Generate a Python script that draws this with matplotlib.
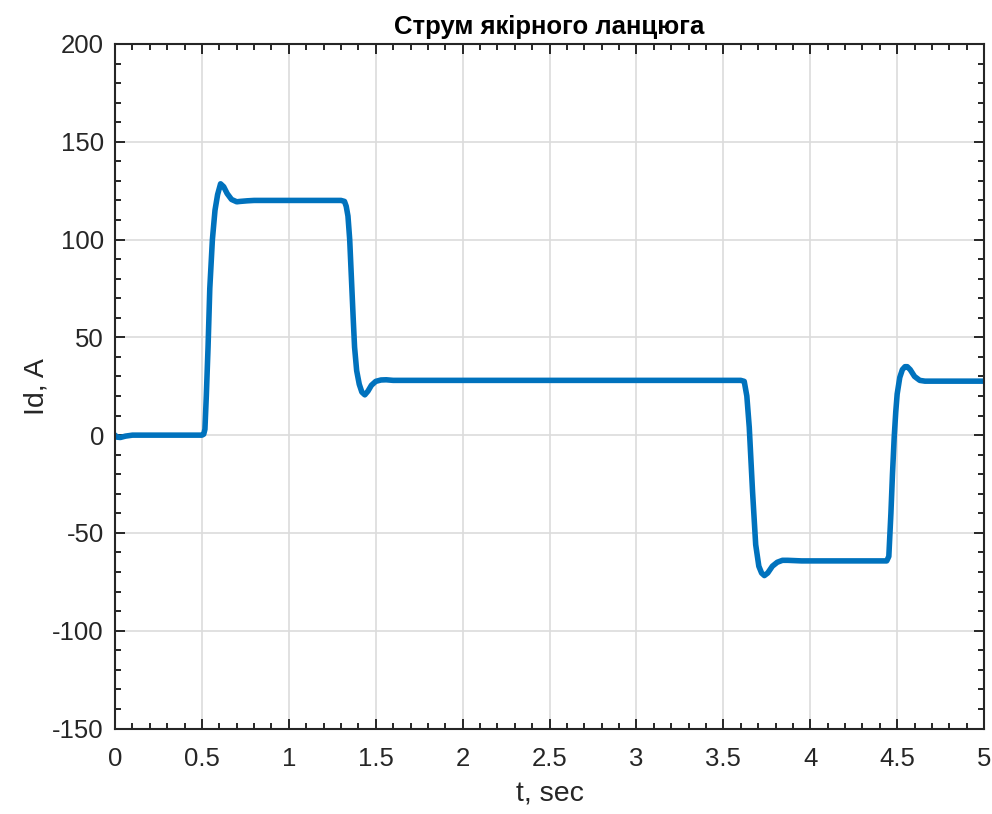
import numpy as np
import matplotlib.pyplot as plt
from matplotlib.ticker import MultipleLocator

plt.rcParams['font.family'] = ['Liberation Sans', 'DejaVu Sans']

# armature current (t in s, Id in A)
t = [0.0, 0.01, 0.03, 0.06, 0.1, 0.2, 0.3, 0.4, 0.5, 0.51, 0.517,
     0.525, 0.535, 0.545, 0.56, 0.575, 0.59, 0.607, 0.625, 0.645, 0.67,
     0.7, 0.72, 0.76, 0.8, 0.9, 1.0, 1.1, 1.2, 1.3, 1.32, 1.33, 1.34,
     1.35, 1.36, 1.37, 1.378, 1.39, 1.405, 1.42, 1.437, 1.455, 1.475,
     1.5, 1.53, 1.56, 1.6, 1.8, 2.0, 2.5, 3.0, 3.5, 3.6, 3.62, 3.635,
     3.649, 3.668, 3.686, 3.704, 3.72, 3.736, 3.755, 3.782, 3.81, 3.84,
     3.87, 3.95, 4.1, 4.3, 4.44, 4.452, 4.464, 4.473, 4.483, 4.492, 4.5,
     4.515, 4.53, 4.545, 4.558, 4.575, 4.6, 4.63, 4.66, 4.7, 4.8, 5.0]
Id = [0.0, -1.0, -1.2, -0.5, 0.0, 0.0, 0.0, 0.0, 0.0, 0.5, 3,
      20, 45, 75, 100, 115, 123, 128.5, 127, 123.5, 120.5,
      119.3, 119.5, 119.8, 120, 120, 120, 120, 120, 120, 119.5, 117, 112,
      100, 80, 60, 45, 33, 26, 22, 20.6, 22.5, 25.5,
      27.5, 28.2, 28.3, 28, 28, 28, 28, 28, 28, 28, 27.5, 20,
      4, -29, -56, -67, -70.5, -71.8, -70.5, -67, -65, -64,
      -64, -64.3, -64.3, -64.3, -64.3, -62, -40, -20, -1, 12, 21,
      29.5, 33.5, 35, 35, 33.5, 30, 28, 27.6, 27.6, 27.6, 27.6]

fig = plt.figure(figsize=(9.92, 8.14), dpi=100)
ax = fig.add_axes([0.116, 0.105, 0.876, 0.841])

ax.plot(t, Id, color='#0072BD', linewidth=4.0, solid_capstyle='round',
        solid_joinstyle='round')

ax.set_xlim(0, 5)
ax.set_ylim(-150, 200)
ax.xaxis.set_major_locator(MultipleLocator(0.5))
ax.xaxis.set_minor_locator(MultipleLocator(0.1))
ax.yaxis.set_major_locator(MultipleLocator(50))
ax.yaxis.set_minor_locator(MultipleLocator(10))
ax.set_xticklabels([f'{v:g}' for v in ax.get_xticks()])
ax.set_yticklabels([f'{v:g}' for v in ax.get_yticks()])

ax.grid(True, which='major', color='#dcdcdc', linewidth=1.2)
ax.set_axisbelow(True)
for s in ax.spines.values():
    s.set_color('#262626')
    s.set_linewidth(1.5)
ax.tick_params(which='both', direction='in', top=True, right=True,
               colors='#262626', width=1.4, labelsize=18.5)
ax.tick_params(axis='x', pad=13)
ax.tick_params(axis='y', pad=8)
ax.tick_params(which='major', length=7)
ax.tick_params(which='minor', length=4)

ax.set_xlabel('t, sec', fontsize=20.5, color='#262626', labelpad=8)
ax.set_ylabel('Id, A', fontsize=20.5, color='#262626', labelpad=2)
ax.set_title('Струм якірного ланцюга', fontsize=18.5, fontweight='bold', pad=7)

fig.savefig('out.png', dpi=100)
